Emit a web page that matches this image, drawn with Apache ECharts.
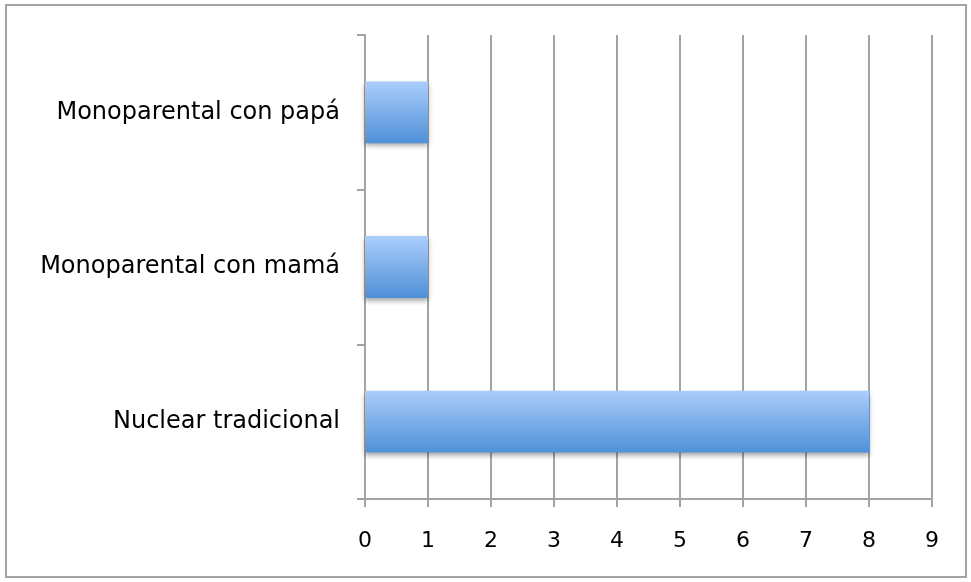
<!DOCTYPE html>
<html><head><meta charset="utf-8">
<script src="https://cdn.jsdelivr.net/npm/echarts@6/dist/echarts.min.js"></script>
<style>html,body{margin:0;padding:0;background:#fff}#c{width:971px;height:582px}</style>
</head><body><div id="c"></div>
<script>
const categories = ["Nuclear tradicional", "Monoparental con mamá", "Monoparental con papá"];
const values = [8, 1, 1];
const xTicks = [0, 9, 1];

const chart = echarts.init(document.getElementById('c'));
const gridColor = '#a3a3a3';
const font = 'DejaVu Sans';
chart.setOption({
  animation: false,
  graphic: [{
    type: 'rect', shape: {x: 6, y: 5, width: 960, height: 572},
    style: {fill: 'none', stroke: gridColor, lineWidth: 2}, silent: true
  }],
  grid: {left: 365, right: 39, top: 35, bottom: 83},
  xAxis: {
    type: 'value', min: xTicks[0], max: xTicks[1], interval: xTicks[2],
    axisLine: {show: true, lineStyle: {color: gridColor, width: 2}},
    axisTick: {show: true, length: 8, lineStyle: {color: gridColor, width: 2}},
    splitLine: {show: true, lineStyle: {color: gridColor, width: 2}},
    axisLabel: {color: '#000', fontFamily: font, fontSize: 22, margin: 31}
  },
  yAxis: {
    type: 'category', data: categories,
    axisLine: {show: true, lineStyle: {color: gridColor, width: 2}},
    axisTick: {show: true, length: 8, lineStyle: {color: gridColor, width: 2}},
    axisLabel: {color: '#000', fontFamily: font, fontSize: 24, margin: 25, padding: [6, 0, 0, 0]}
  },
  series: [{
    type: 'bar', data: values, barCategoryGap: '60%',
    itemStyle: {
      color: new echarts.graphic.LinearGradient(0, 0, 0, 1, [
        {offset: 0, color: '#abcdfb'}, {offset: 1, color: '#4f90d8'}
      ]),
      shadowColor: 'rgba(0,0,0,0.35)', shadowBlur: 5, shadowOffsetY: 3
    }
  }]
});
</script></body></html>
